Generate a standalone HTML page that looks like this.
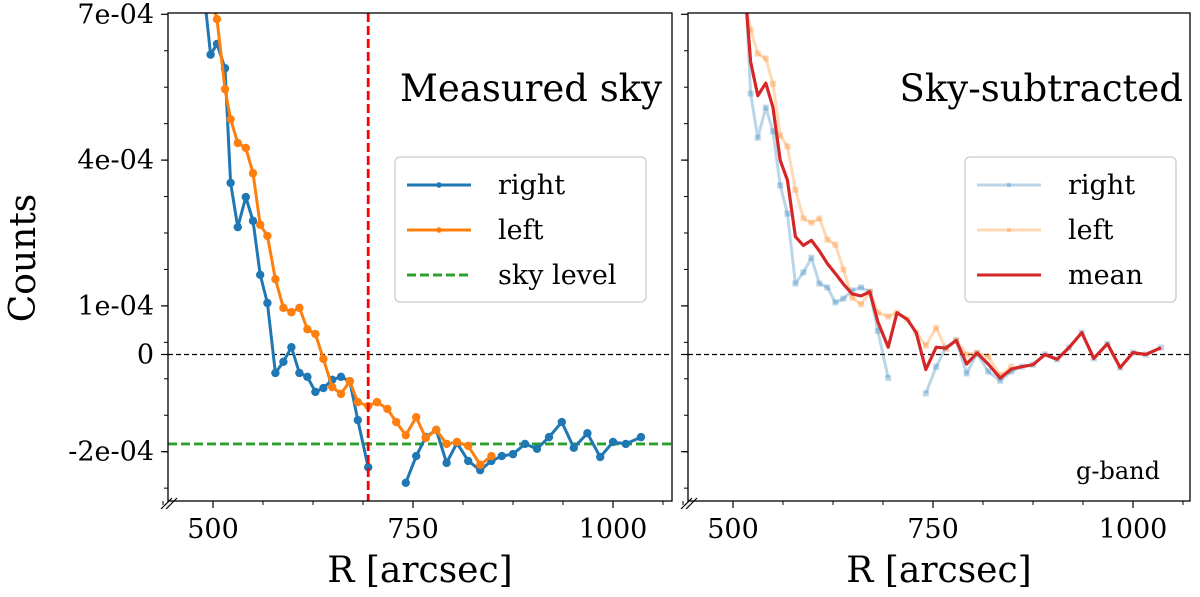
<!DOCTYPE html>
<html><head><meta charset="utf-8"><style>
body{margin:0;background:#fff}
svg text{font-family:"DejaVu Serif","Liberation Serif",serif}
</style></head><body>
<svg id="c" width="1200" height="592" xmlns="http://www.w3.org/2000/svg"></svg>
<script>
const R = [487,497,505,515,522,531,541,550,559,568,578,588,598,608,618,628,638,649,660,671,681,694,705,718,729,741,754,766,779,792,805,819,834,848,861,875,890,905,920,936,951,968,984,1000,1016,1035];
const rightVals = [7.71,6.17,6.39,5.89,3.53,2.62,3.24,2.75,1.64,1.06,-0.38,-0.15,0.15,-0.38,-0.46,-0.77,-0.69,-0.52,-0.46,-0.55,-1.35,-2.32,null,null,null,-2.64,-2.09,-1.70,-1.55,-2.23,-1.82,-2.19,-2.38,-2.19,-2.09,-2.05,-1.84,-1.94,-1.70,-1.39,-1.92,-1.62,-2.11,-1.80,-1.84,-1.70];
const leftVals = [null,7.4,6.90,5.46,4.84,4.35,4.25,3.73,2.67,2.44,1.55,0.96,0.87,0.96,0.52,0.42,-0.09,-0.67,-0.81,-0.55,-0.98,-1.06,-0.98,-1.12,-1.39,-1.66,-1.29,-1.72,-1.55,-1.84,-1.80,-1.88,-2.27,-2.09,null,null,null,null,null,null,null,null,null,null,null,null];
const skyLevel = -1.84; // units of 1e-4
const cutR = 694;
const yTickVals = [7,4,1,0,-2];
const yTickLabels = ["7e-04","4e-04","1e-04","0","-2e-04"];
const xTickVals = [500,750,1000];

const svg=document.getElementById('c');
const NS='http://www.w3.org/2000/svg';
function mk(tag,attrs,parent){const e=document.createElementNS(NS,tag);for(const k in attrs)e.setAttribute(k,attrs[k]);(parent||svg).appendChild(e);return e;}
const TOP=13,BOT=501;
function y(v){return 354.5-v*48.6;}
const panels=[{x0:168,x1:672},{x0:688,x1:1190}];
function xf(p,r){return p.x0+45+(r-500)*0.8;}

const defs=mk('defs',{});
panels.forEach((p,i)=>{const cp=mk('clipPath',{id:'clip'+i},defs);mk('rect',{x:p.x0,y:TOP,width:p.x1-p.x0,height:BOT-TOP},cp);});

function poly(p,vals,off,g,color,w,op){
  let seg=[];const segs=[];
  vals.forEach((v,i)=>{if(v==null){if(seg.length)segs.push(seg);seg=[];}else seg.push([xf(p,R[i]),y(v+off)]);});
  if(seg.length)segs.push(seg);
  segs.forEach(s=>{const l=mk('polyline',{points:s.map(a=>a.join(',')).join(' '),fill:'none',stroke:color,'stroke-width':w,'stroke-opacity':op,'stroke-linejoin':'round'},g);
    
    });
}
function marks(p,vals,off,g,color,sq,op){
  vals.forEach((v,i)=>{if(v==null)return;const cx=xf(p,R[i]),cy=y(v+off);let m;
    if(sq)m=mk('rect',{x:cx-3,y:cy-3,width:6,height:6,fill:color,'fill-opacity':op},g);
    else m=mk('circle',{cx:cx,cy:cy,r:4.2,fill:color},g);
    
    });
}

panels.forEach((p,pi)=>{
  const g=mk('g',{'clip-path':'url(#clip'+pi+')'});
  
  
  mk('line',{x1:p.x0,x2:p.x1,y1:y(0),y2:y(0),stroke:'#000','stroke-width':1.3,'stroke-dasharray':'5,3'},g);
  if(pi===0){
    mk('line',{x1:p.x0,x2:p.x1,y1:y(skyLevel),y2:y(skyLevel),stroke:'#2ca02c','stroke-width':2.8,'stroke-dasharray':'9,4'},g);
    poly(p,rightVals,0,g,'#1f77b4',3,1);marks(p,rightVals,0,g,'#1f77b4',false,1);
    poly(p,leftVals,0,g,'#ff7f0e',3,1);marks(p,leftVals,0,g,'#ff7f0e',false,1);
    const cx=xf(p,cutR);
    mk('line',{x1:cx,x2:cx,y1:TOP,y2:BOT,stroke:'#ff0000','stroke-width':2.8,'stroke-dasharray':'9,4'},g);
  }else{
    const off=-skyLevel;
    poly(p,rightVals,off,g,'#1f77b4',3,0.3);marks(p,rightVals,off,g,'#1f77b4',true,0.3);
    poly(p,leftVals,off,g,'#ff7f0e',3,0.3);marks(p,leftVals,off,g,'#ff7f0e',true,0.3);
    const mean=R.map((_,i)=>{const a=rightVals[i],b=leftVals[i];if(a==null&&b==null)return null;if(a==null)return b;if(b==null)return a;return (a+b)/2;});
    poly(p,mean,off,g,'#d62728',3.2,1);
  }
  const f=mk('rect',{x:p.x0,y:TOP,width:p.x1-p.x0,height:BOT-TOP,fill:'none',stroke:'#000','stroke-width':1.3});
  
  for(let v=-2.75;v<=6.3;v+=0.75){mk('line',{x1:p.x0-4,x2:p.x0,y1:y(v),y2:y(v),stroke:'#000','stroke-width':1});}
  yTickVals.forEach((v,i)=>{mk('line',{x1:p.x0-7,x2:p.x0,y1:y(v),y2:y(v),stroke:'#000','stroke-width':1.2});
    if(pi===0){const t=mk('text',{x:p.x0-14,y:y(v)+9,'text-anchor':'end','font-size':27});t.textContent=yTickLabels[i];
      }});
  for(let r=437.5;r<1075;r+=62.5){mk('line',{x1:xf(p,r),x2:xf(p,r),y1:BOT,y2:BOT+4,stroke:'#000','stroke-width':1});}
  xTickVals.forEach(r=>{mk('line',{x1:xf(p,r),x2:xf(p,r),y1:BOT,y2:BOT+7,stroke:'#000','stroke-width':1.2});
    const t=mk('text',{x:xf(p,r),y:538,'text-anchor':'middle','font-size':27});t.textContent=r;
    });
  mk('path',{d:`M${p.x0-7},${BOT+8} l11,-11 M${p.x0-2},${BOT+8} l11,-11`,stroke:'#000','stroke-width':1.2,fill:'none'});
  const xl=mk('text',{x:(p.x0+p.x1)/2,y:582,'text-anchor':'middle','font-size':36});xl.textContent='R [arcsec]';
  
});
function txt(s,x,yy,fs,anchor,name){const t=mk('text',{x:x,y:yy,'font-size':fs,'text-anchor':anchor||'start'});t.textContent=s;
  return t;}
const yt=txt('Counts',0,0,36,'middle','y-axis-title');yt.setAttribute('transform','translate(35,258) rotate(-90)');
txt('Measured sky',662,101,37,'end','panel-title-left');
txt('Sky-subtracted',1183,101,37,'end','panel-title-right');
txt('g-band',1160,479,24,'end','band-label');

function legend(x,w,items,name){
  const g=mk('g',{});
  mk('rect',{x:x,y:157,width:w,height:145,rx:5,fill:'#fff','fill-opacity':0.8,stroke:'#ccc','stroke-width':1.3},g);
  items.forEach((it,i)=>{const yy=185+i*45;
    mk('line',{x1:x+12,x2:x+76,y1:yy,y2:yy,stroke:it.c,'stroke-width':3,'stroke-opacity':it.o,'stroke-dasharray':it.d||'none'},g);
    if(it.m==='c')mk('circle',{cx:x+44,cy:yy,r:2.8,fill:it.c},g);
    if(it.m==='s')mk('rect',{x:x+42,y:yy-2,width:4,height:4,fill:it.c,'fill-opacity':it.o},g);
    const t=mk('text',{x:x+103,y:yy+9,'font-size':27},g);t.textContent=it.t;
    });
}
legend(395,251,[{c:'#1f77b4',t:'right',m:'c',o:1},{c:'#ff7f0e',t:'left',m:'c',o:1},{c:'#2ca02c',t:'sky level',o:1,d:'9,4'}],'legend-left');
legend(965,211,[{c:'#1f77b4',t:'right',m:'s',o:0.3},{c:'#ff7f0e',t:'left',m:'s',o:0.3},{c:'#d62728',t:'mean',o:1}],'legend-right');
</script>
</body></html>
